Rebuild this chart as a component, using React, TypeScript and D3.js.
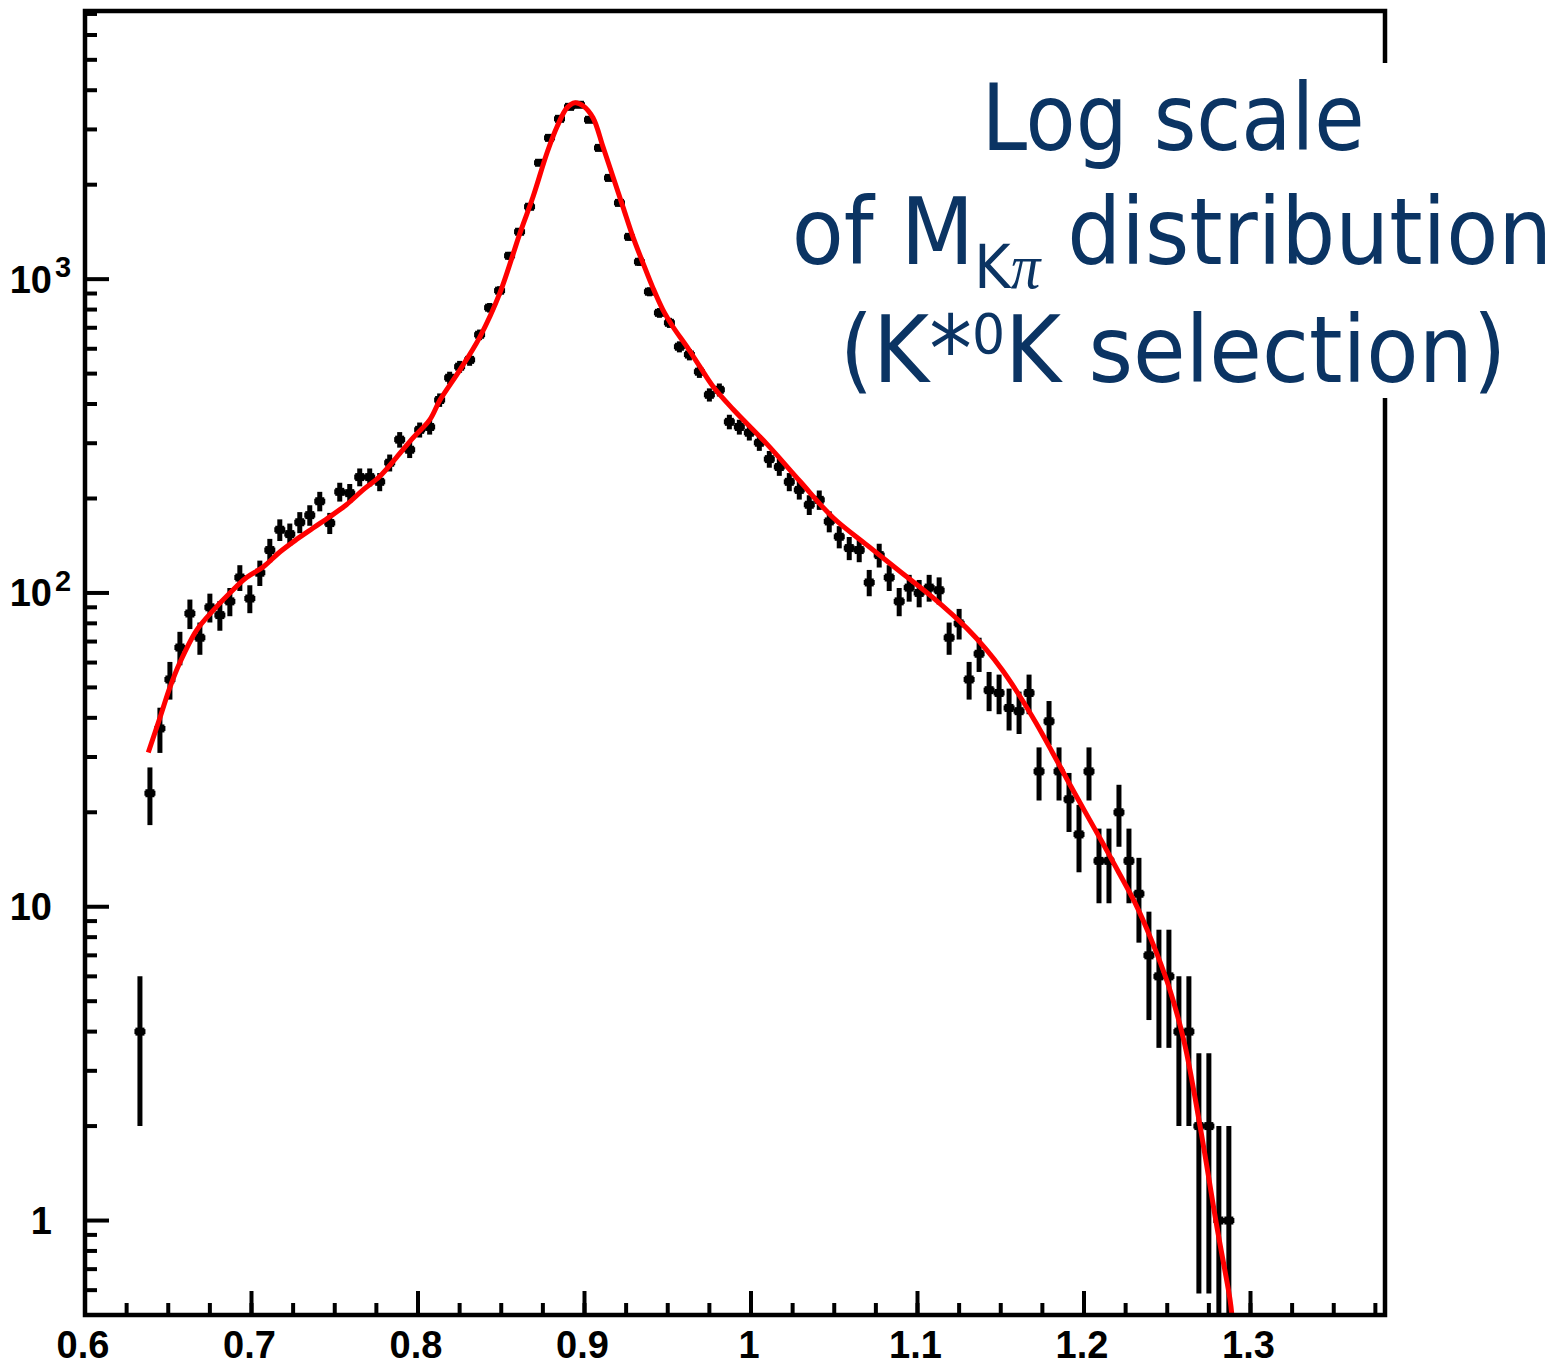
import React, { useEffect } from 'react';
import * as d3 from 'd3';

// ---------- data ----------
const binStart = 0.6;
const binWidth = 0.006;
const firstBin = 5;
// event counts per bin, bins 5 .. 114
const counts = [
  4, 23, 37, 53, 67, 86, 72, 90, 85, 94,
  112, 96, 116, 137, 159, 154, 168, 177, 196, 167,
  210, 208, 234, 234, 226, 260, 308, 286, 331, 338,
  412, 485, 526, 553, 665, 811, 919, 1187, 1416, 1701,
  2349, 2820, 3243, 3541, 3595, 3220, 2620, 2102, 1750, 1364,
  1136, 912, 781, 726, 609, 575, 507, 428, 444, 351,
  338, 324, 301, 267, 252, 226, 213, 191, 198, 169,
  151, 139, 137, 108, 132, 112, 94, 104, 100, 104,
  102, 72, 80, 53, 64, 49, 48, 43, 42, 48,
  27, 39, 27, 22, 17, 27, 14, 14, 20, 14,
  11, 7, 6, 6, 4, 4, 2, 2, 1, 1,
];

// fit curve samples
const fitX = [
  0.638, 0.645, 0.651, 0.657, 0.667, 0.677, 0.687, 0.697, 0.707, 0.717,
  0.727, 0.737, 0.747, 0.757, 0.767, 0.777, 0.787, 0.797, 0.807, 0.8132,
  0.8252, 0.8372, 0.8492, 0.8613, 0.8691, 0.8775, 0.8835, 0.8895, 0.8943, 0.8991,
  0.9051, 0.9111, 0.9171, 0.9231, 0.9291, 0.9351, 0.9411, 0.9471, 0.9532, 0.9616,
  0.9694, 0.9772, 0.9892, 1.0096, 1.0294, 1.0492, 1.0697, 1.0895, 1.1093, 1.1297,
  1.1411, 1.1508, 1.161, 1.1712, 1.1808, 1.191, 1.2006, 1.2108, 1.2204, 1.2306,
  1.2402, 1.2505, 1.2601, 1.2697, 1.2799, 1.2877, 1.2888,
];
const fitY = [
  31, 40, 50, 60, 76, 88, 100, 112, 121, 135,
  148, 161, 175, 191, 213, 235, 270, 312, 356, 412,
  514, 655, 904, 1405, 1830, 2528, 3060, 3516, 3650, 3570,
  3268, 2641, 2120, 1700, 1364, 1127, 938, 798, 704, 608,
  525, 455, 385, 298, 227, 174, 142, 117, 96.6, 77.1,
  66.2, 56.9, 47.3, 38.5, 31.2, 24.8, 20.1, 16.1, 13.0, 10.3,
  7.9, 5.66, 3.72, 2.0, 0.95, 0.56, 0.5,
];

const xMajorTicks = [0.6, 0.7, 0.8, 0.9, 1.0, 1.1, 1.2, 1.3];
const xMajorLabels = ['0.6', '0.7', '0.8', '0.9', '1', '1.1', '1.2', '1.3'];
const yMajorTicks = [1, 10, 100, 1000];

// ---------- layout ----------
const W = 1561;
const H = 1367;
const left = 85;
const right = 1385;
const top = 11;
const bottom = 1315;

const x = d3.scaleLinear().domain([0.6, 1.38]).range([left, 85 + 0.78 * 1665]);
const y = d3.scaleLog().domain([0.5, 7154]).range([bottom, top]);

const textColor = '#0b3463';

export default function App() {
  useEffect(() => {
    document.body.style.margin = '0';
    document.body.style.overflow = 'hidden';
  }, []);

  const minorX = d3.range(0, 32).map((i) => 0.6 + i * 0.025).filter((v) => v <= 1.3801);
  const minorY = y.ticks().filter((v) => v >= 0.5 && v <= 7154 && !yMajorTicks.includes(v));

  const points = counts.map((c, i) => {
    const bin = firstBin + i;
    const cx = binStart + (bin + 0.5) * binWidth;
    const err = Math.sqrt(c);
    return { cx, c, lo: Math.max(c - err, 0.5), hi: c + err };
  });

  const fitLine = d3
    .line<number>()
    .x((_, i) => x(fitX[i]))
    .y((d) => y(d))
    .curve(d3.curveCatmullRom.alpha(0.5));

  return (
    <svg width={W} height={H} style={{ position: 'absolute', left: 0, top: 0, background: '#fff' }}>
      <rect x={0} y={0} width={W} height={H} fill="#fff" />
      <defs>
        <clipPath id="plotClip">
          <rect x={left} y={top} width={right - left} height={bottom - top} />
        </clipPath>
      </defs>

      {/* data points */}
      <g stroke="#000" clipPath="url(#plotClip)">
        {points.map((p, i) => (
          <g key={i}>
            <line x1={x(p.cx)} x2={x(p.cx)} y1={y(p.lo)} y2={y(p.hi)} strokeWidth={5} />
            <line x1={x(p.cx) - 5.5} x2={x(p.cx) + 5.5} y1={y(p.c)} y2={y(p.c)} strokeWidth={5} />
            <rect x={x(p.cx) - 4.5} y={y(p.c) - 4} width={9} height={8} fill="#000" stroke="none" />
          </g>
        ))}
      </g>

      {/* fit curve */}
      <path
        d={fitLine(fitY) || ''}
        fill="none"
        stroke="#ff0000"
        strokeWidth={5}
        clipPath="url(#plotClip)"
      />

      {/* ticks */}
      <g stroke="#000" strokeWidth={4}>
        {minorX.map((v, i) => (
          <line key={'mx' + i} x1={x(v)} x2={x(v)} y1={bottom} y2={bottom - 12} />
        ))}
        {xMajorTicks.map((v, i) => (
          <line key={'Mx' + i} x1={x(v)} x2={x(v)} y1={bottom} y2={bottom - 24} />
        ))}
        {minorY.map((v, i) => (
          <line key={'my' + i} x1={left} x2={left + 12} y1={y(v)} y2={y(v)} />
        ))}
        {yMajorTicks.map((v, i) => (
          <line key={'My' + i} x1={left} x2={left + 24} y1={y(v)} y2={y(v)} />
        ))}
      </g>

      {/* frame */}
      <rect
        x={left}
        y={top}
        width={right - left}
        height={bottom - top}
        fill="none"
        stroke="#000"
        strokeWidth={4.5}
      />

      {/* tick labels */}
      <g fontFamily="Liberation Sans, Arial, sans-serif" fontWeight="bold" fontSize={38} fill="#000">
        {xMajorTicks.map((v, i) => (
          <text key={'xl' + i} x={x(v) - 2} y={1358} textAnchor="middle">
            {xMajorLabels[i]}
          </text>
        ))}
        <text x={52} y={y(1) + 13.5} textAnchor="end">1</text>
        <text x={52} y={y(10) + 13.5} textAnchor="end">10</text>
        <text x={52} y={y(100) + 13.5} textAnchor="end">10</text>
        <text x={55} y={y(100) - 2} fontSize={29} textAnchor="start">2</text>
        <text x={52} y={y(1000) + 13.5} textAnchor="end">10</text>
        <text x={55} y={y(1000) - 2} fontSize={29} textAnchor="start">3</text>
      </g>

      {/* annotation box */}
      <rect x={790} y={63} width={771} height={335} fill="#fff" />
      <g fontFamily="DejaVu Sans, Verdana, sans-serif" fill={textColor}>
        <g transform="translate(1173,150) scale(0.89,1)">
          <text textAnchor="middle" fontSize={92}>Log scale</text>
        </g>
        <g transform="translate(1172,264) scale(0.925,1)">
          <text textAnchor="middle" fontSize={92}>
            of M
            <tspan fontSize={60} dy={24}>K</tspan>
            <tspan fontSize={64} fontFamily="Liberation Serif, serif" fontStyle="italic">π</tspan>
            <tspan fontSize={92} dy={-24}> distribution</tspan>
          </text>
        </g>
        <g transform="translate(1173,382) scale(0.93,1)">
          <text textAnchor="middle" fontSize={92}>
            (K*
            <tspan fontSize={56} dy={-29}>0</tspan>
            <tspan fontSize={92} dy={29}>K selection)</tspan>
          </text>
        </g>
      </g>
    </svg>
  );
}
